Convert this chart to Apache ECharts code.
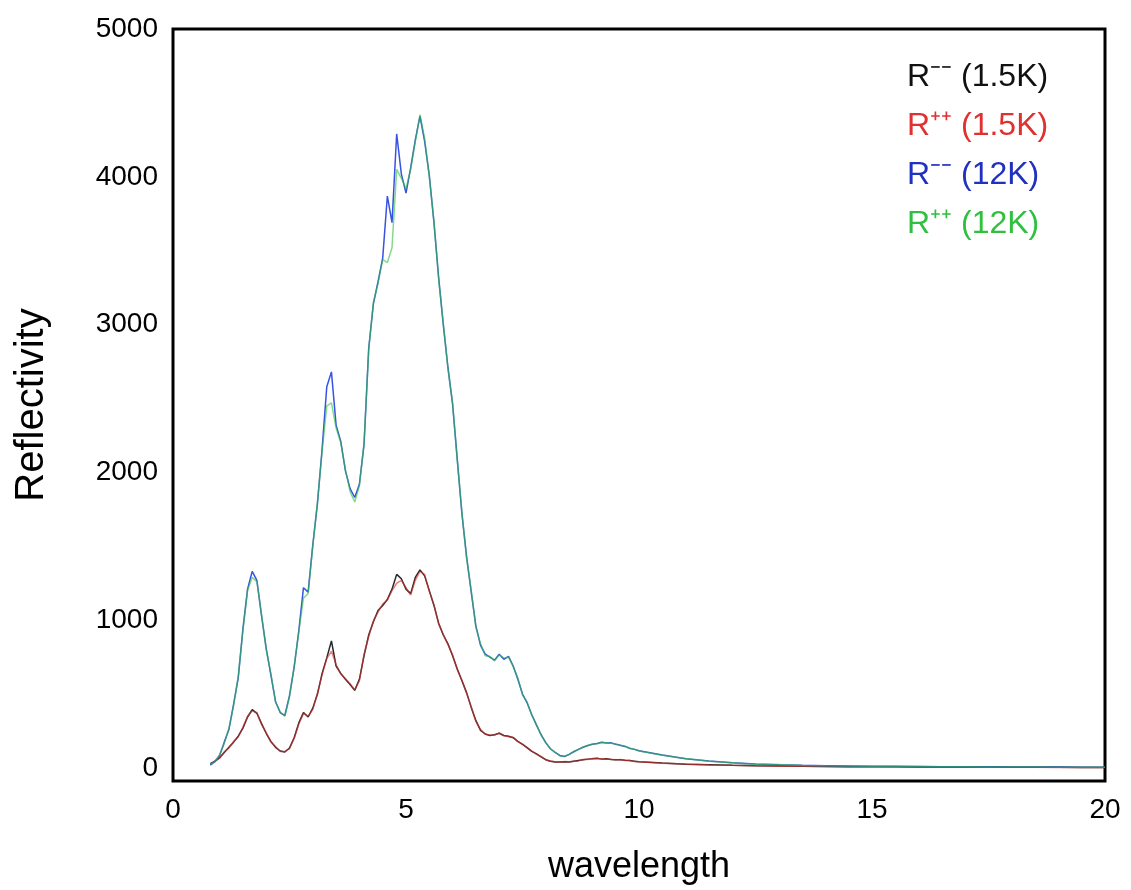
<!DOCTYPE html>
<html>
<head>
<meta charset="utf-8">
<script src="https://cdn.jsdelivr.net/npm/echarts@6/dist/echarts.min.js"></script>
<style>
html,body{margin:0;padding:0;background:#fff;}
#chart{width:1131px;height:890px;}
</style>
</head>
<body>
<div id="chart"></div>
<script>
var wavelength = [
0.8,0.9,1.0,1.1,1.2,1.3,1.4,1.5,1.6,1.7,1.8,1.9,2.0,2.1,2.2,2.3,2.4,2.5,2.6,2.7,2.8,2.9,
3.0,3.1,3.2,3.3,3.4,3.5,3.6,3.7,3.8,3.9,4.0,4.1,4.2,4.3,4.4,4.5,4.6,4.7,4.8,4.9,
5.0,5.1,5.2,5.3,5.4,5.5,5.6,5.7,5.8,5.9,6.0,6.1,6.2,6.3,6.4,6.5,6.6,6.7,6.8,6.9,
7.0,7.1,7.2,7.3,7.4,7.5,7.6,7.7,7.8,7.9,8.0,8.1,8.2,8.3,8.4,8.5,8.6,8.7,8.8,8.9,
9.0,9.1,9.2,9.3,9.4,9.5,9.6,9.7,9.8,9.9,10.0,
10.5,11.0,11.5,12.0,12.5,13.0,13.5,14.0,14.5,15.0,15.5,16.0,16.5,17.0,17.5,18.0,18.5,19.0,19.5,20.0
];
var rMinus15K = [
30,45,70,105,140,175,215,270,345,395,370,300,235,180,140,115,108,135,205,305,375,345,
405,500,640,745,860,690,640,600,565,525,600,760,900,990,1065,1100,1140,1210,1310,1280,
1210,1180,1290,1340,1300,1200,1100,980,900,840,760,670,590,510,410,320,255,230,220,225,
235,220,215,205,180,160,138,112,95,75,56,46,40,40,42,40,45,50,55,60,
62,66,60,62,58,56,55,52,50,46,42,
33,26,22,18,15,13,11,10,9,8,8,7,7,6,6,5,5,5,4,4
];
var rPlus15K = [
25,48,66,110,135,180,210,275,350,385,375,295,240,175,145,112,112,130,200,298,368,352,
395,505,630,740,790,700,635,605,570,530,590,770,890,995,1055,1110,1135,1200,1250,1270,
1220,1170,1270,1330,1310,1195,1105,975,905,835,765,665,595,505,415,315,260,228,224,222,
238,218,212,208,178,162,135,115,92,78,54,48,42,38,44,42,46,48,57,58,
64,63,62,60,60,54,57,50,51,44,43,
32,27,21,18,16,12,11,10,9,8,7,7,6,6,5,5,5,4,4,4
];
var rMinus12K = [
20,45,85,175,260,430,610,940,1210,1330,1270,1030,810,630,450,375,355,490,680,930,1220,1190,
1510,1790,2160,2580,2680,2320,2210,2010,1890,1830,1920,2190,2840,3140,3290,3450,3870,3690,4290,4020,
3890,4060,4250,4410,4240,4010,3690,3320,3000,2710,2460,2090,1720,1430,1190,960,830,770,750,730,
770,735,755,690,600,500,440,360,290,225,170,130,105,85,78,92,110,126,140,152,
160,166,174,169,170,161,154,146,134,126,117,
88,63,47,35,27,22,18,16,14,12,11,10,9,8,8,7,6,6,5,5
];
var rPlus12K = [
25,40,90,165,270,420,620,930,1200,1290,1260,1040,800,640,445,380,350,480,690,920,1150,1180,
1500,1800,2140,2450,2470,2300,2200,2020,1870,1800,1910,2200,2830,3150,3280,3440,3420,3520,4050,3990,
3920,4050,4240,4420,4260,4000,3700,3310,3010,2700,2470,2080,1730,1420,1200,950,840,760,755,725,
765,745,750,685,610,495,445,355,295,220,175,128,108,82,80,90,112,124,142,150,
162,164,172,171,168,163,152,148,132,128,115,
86,64,46,36,26,23,17,15,14,12,10,10,9,8,7,7,6,5,5,5
];
var yTicks = [0,1000,2000,3000,4000,5000];
var xTicks = [0,5,10,15,20];

function pairs(ys){ return wavelength.map(function(x,i){ return [x, ys[i]]; }); }

var FONT = '"Liberation Sans", Arial, sans-serif';
var chart = echarts.init(document.getElementById('chart'), null, {renderer:'canvas'});
function mk(name, ys, color, op){
  return {name:name, type:'line', data:pairs(ys), showSymbol:false, symbol:'none',
    lineStyle:{color:color, width:1.5, opacity:op}, itemStyle:{color:color}};
}
chart.setOption({
  animation:false,
  backgroundColor:'#ffffff',
  grid:{left:173, top:29, width:932, height:752, show:true, borderColor:'#000', borderWidth:3, backgroundColor:'transparent'},
  legend:{
    orient:'vertical', left:897, top:56, itemGap:17, itemWidth:0, itemHeight:0, icon:'rect',
    textStyle:{fontFamily:FONT, fontSize:32},
    data:[
      {name:'R\u207B\u207B (1.5K)', textStyle:{color:'#111111'}},
      {name:'R\u207A\u207A (1.5K)', textStyle:{color:'#e03030'}},
      {name:'R\u207B\u207B (12K)', textStyle:{color:'#2030c0'}},
      {name:'R\u207A\u207A (12K)', textStyle:{color:'#30c040'}}
    ]
  },
  xAxis:{
    type:'value', min:0, max:20, interval:5,
    name:'wavelength', nameLocation:'middle', nameGap:68,
    nameTextStyle:{fontFamily:FONT, fontSize:36, color:'#000'},
    axisLine:{show:false}, axisTick:{show:false}, splitLine:{show:false},
    axisLabel:{fontFamily:FONT, fontSize:28, color:'#000', margin:15, customValues:xTicks}
  },
  yAxis:{
    type:'value', min:-88, max:5000,
    name:'Reflectivity', nameLocation:'middle', nameGap:121,
    nameTextStyle:{fontFamily:FONT, fontSize:40, color:'#000'},
    axisLine:{show:false}, axisTick:{show:false}, splitLine:{show:false},
    axisLabel:{fontFamily:FONT, fontSize:28, color:'#000', margin:15, customValues:yTicks,
      formatter:function(v){ return String(v); }}
  },
  series:[
    mk('R\u207B\u207B (1.5K)', rMinus15K, '#111111', 0.9),
    mk('R\u207A\u207A (1.5K)', rPlus15K, '#e03030', 0.6),
    mk('R\u207B\u207B (12K)', rMinus12K, '#2040e0', 0.9),
    mk('R\u207A\u207A (12K)', rPlus12K, '#30c040', 0.6)
  ]
});
</script>
</body>
</html>
